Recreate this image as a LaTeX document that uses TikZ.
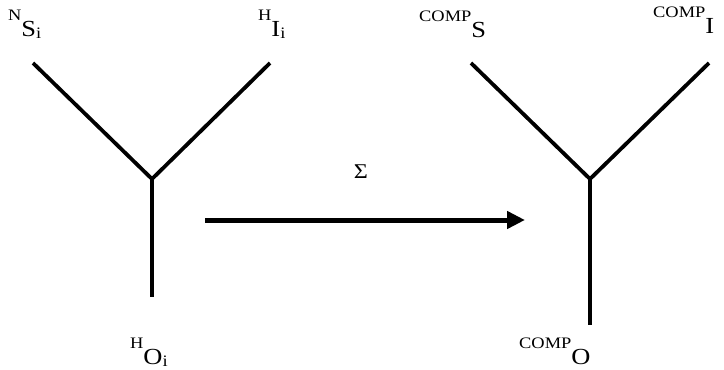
\documentclass[tikz,border=0pt]{standalone}
\usepackage{fontspec}
\setmainfont{Liberation Serif}[FakeStretch=1.15]
\usetikzlibrary{arrows.meta}

% label with a raised prefix, a main letter and a lowered index
\newcommand{\yleg}[3]{\raisebox{16pt}{\fontsize{16}{16}\selectfont #1}{\fontsize{23}{23}\selectfont #2}\raisebox{-2pt}{\fontsize{16}{16}\selectfont #3}}

\begin{document}
\begin{tikzpicture}[x=1pt, y=-1pt,
    branch/.style={line width=3.8pt},
    leg/.style={inner sep=0pt, anchor=base west}]

        \useasboundingbox (0,0) rectangle (724,370);

        % Left junction
        \coordinate (lS) at (33,63);
        \coordinate (lI) at (270,63);
        \coordinate (lJ) at (152,179);
        \coordinate (lO) at (152,297);
        \draw[branch] (lS) -- (lJ) -- (lI);
        \draw[branch] (lJ) -- (lO);

        \node[leg] (ns) at (8,36) {\yleg{N}{S}{i}};
        \node[leg] (hi) at (258,36) {\yleg{H}{I}{i}};
        \node[leg] (ho) at (130,364) {\yleg{H}{O}{i}};

        % Right junction
        \coordinate (rS) at (471,63);
        \coordinate (rI) at (709,63);
        \coordinate (rJ) at (590,179);
        \coordinate (rO) at (590,325);
        \draw[branch] (rS) -- (rJ) -- (rI);
        \draw[branch] (rJ) -- (rO);

        \node[leg] (cs) at (419,37) {\yleg{COMP}{S}{}};
        \node[leg] (ci) at (653,33) {\yleg{COMP}{I}{}};
        \node[leg] (co) at (519,364) {\yleg{COMP}{O}{}};

        % Sum
        \coordinate (a1) at (205,220);
        \coordinate (a2) at (525,220);
        \draw[line width=5pt, -{Triangle[length=18pt,width=17pt]}] (a1) -- (a2);
        \node[font=\fontsize{21}{21}\selectfont] (sum) at (361,172) {Σ};

    \end{tikzpicture}
\end{document}
